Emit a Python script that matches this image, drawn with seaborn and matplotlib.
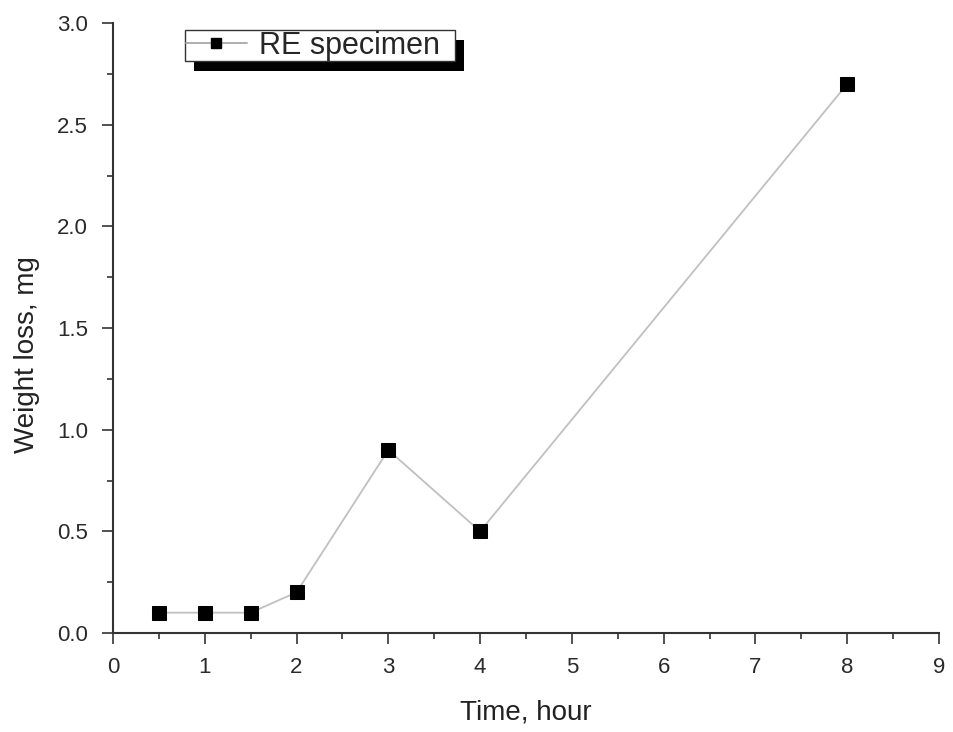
import matplotlib
matplotlib.use("Agg")
import matplotlib.pyplot as plt
import seaborn as sns
import pandas as pd
from matplotlib.ticker import MultipleLocator
from matplotlib.patches import Rectangle

time_hour = [0.5, 1, 1.5, 2, 3, 4, 8]
weight_loss = [0.1, 0.1, 0.1, 0.2, 0.9, 0.5, 2.7]
series_name = "RE specimen"

df = pd.DataFrame({"Time, hour": time_hour, "Weight loss, mg": weight_loss, "s": series_name})

sns.set_theme(style="ticks")
plt.rcParams["font.family"] = ["Liberation Sans", "DejaVu Sans"]

fig = plt.figure(figsize=(9.54, 7.32), dpi=100)
ax = fig.add_axes([113/954, 1-633/732, (939-113)/954, (633-23)/732])

sns.lineplot(data=df, x="Time, hour", y="Weight loss, mg", hue="s", palette=["#c0c0c0"],
             marker="s", markersize=10, markerfacecolor="black", markeredgecolor="black",
             linewidth=1.3, ax=ax, legend=False)

ax.set_xlim(0, 9)
ax.set_ylim(0, 3.0)
ax.xaxis.set_major_locator(MultipleLocator(1))
ax.xaxis.set_minor_locator(MultipleLocator(0.5))
ax.yaxis.set_minor_locator(MultipleLocator(0.25))
ax.set_yticks([0, 0.5, 1.0, 1.5, 2.0, 2.5, 3.0])
ax.set_yticklabels(["0.0", "0.5", "1.0", "1.5", "2.0", "2.5", "3.0"])
ax.tick_params(which="major", direction="out", length=8, width=1.2, labelsize=16,
               colors="#333333", labelcolor="#2a2a2a")
ax.tick_params(axis="x", which="major", pad=9)
ax.tick_params(axis="y", which="major", pad=10)
ax.tick_params(which="minor", direction="out", length=4, width=1.2, colors="#333333")
ax.spines["top"].set_visible(False)
ax.spines["right"].set_visible(False)
for s in ["left", "bottom"]:
    ax.spines[s].set_linewidth(1.5)
    ax.spines[s].set_color("#333333")
ax.set_xlabel("Time, hour", fontsize=20, color="#222222", labelpad=16)
ax.set_ylabel("Weight loss, mg", fontsize=20, color="#222222", labelpad=12)
ax.yaxis.label.set_y(0.456)

handle = plt.Line2D([], [], color="#a8a8a8", linewidth=1.3, marker="s", markersize=7,
                    markerfacecolor="black", markeredgecolor="black")
leg = ax.legend([handle], [series_name], loc="upper left", bbox_to_anchor=(72/826, 1 - 7/610),
                fontsize=22, frameon=False, borderpad=0.02, handlelength=2.0,
                handletextpad=0.4, borderaxespad=0)
leg.set_zorder(10)

fig.canvas.draw()
bb = leg.get_window_extent()
x0, y0 = bb.x0, bb.y0
w, h = bb.width + 14, bb.height
shadow = Rectangle((x0 + 9, y0 - 10), w, h, transform=None,
                   facecolor="black", edgecolor="none", zorder=8)
frame = Rectangle((x0, y0), w, h, transform=None,
                  facecolor="white", edgecolor="#333333", linewidth=1.0, zorder=9)
ax.add_artist(shadow)
ax.add_artist(frame)

fig.savefig("out.png", dpi=100)
